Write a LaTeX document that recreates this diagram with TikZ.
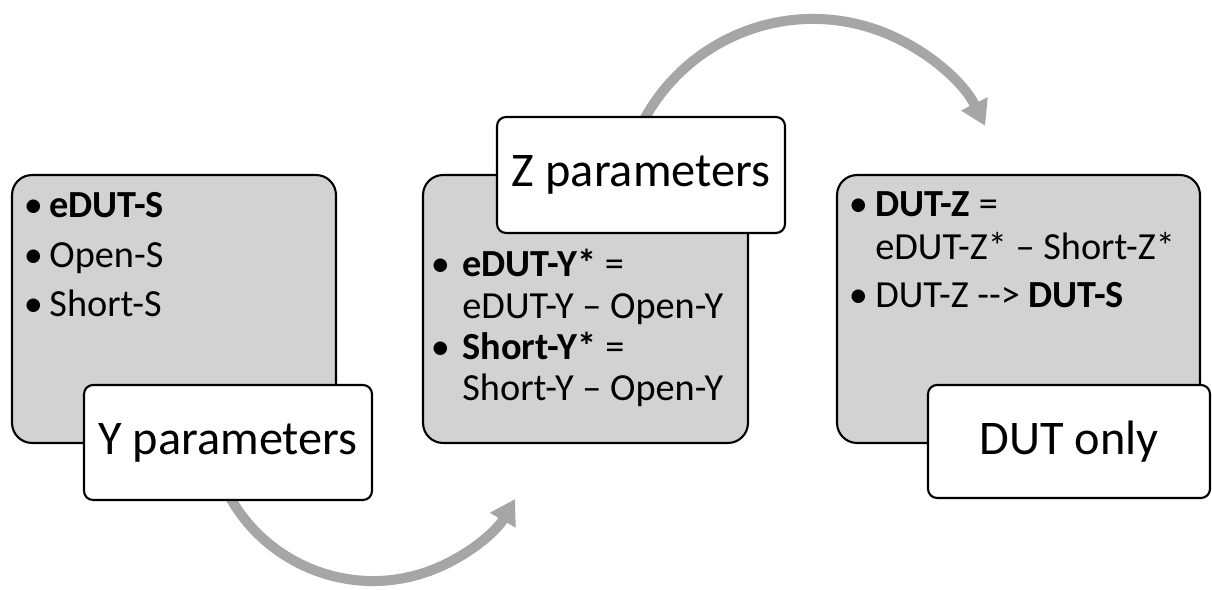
\documentclass[tikz,border=0pt]{standalone}
\usepackage{fontspec}
\setmainfont{Carlito}
\usetikzlibrary{arrows.meta}
\definecolor{boxgray}{RGB}{210,210,210}
\definecolor{arrowgray}{RGB}{166,166,166}
\newcommand\itembul[1]{\makebox[#1][l]{\hspace*{-2.5pt}•}}
\tikzset{
  graybox/.style={draw=black, line width=1.2pt, fill=boxgray, rounded corners=0.4cm, inner sep=0pt, minimum height=5.36cm},
  labelbox/.style={draw=black, line width=1.2pt, fill=white, rounded corners=0.18cm, inner sep=0pt, font=\fontsize{27.5}{33}\selectfont},
  bodytext/.style={anchor=base west, inner sep=0pt, font=\fontsize{21.8}{23.4}\selectfont},
  flow/.style={draw=arrowgray, line width=5.7pt, -{Triangle[width=16pt,length=14pt]}}
}
\begin{document}
\begin{tikzpicture}[x=0.02cm, y=0.02cm]
\useasboundingbox (0,0) rectangle (1212,590);
% arrows
\coordinate (a1s) at (218.9,116.9);
\coordinate (a2s) at (632.6,444.7);
\draw[flow] (a1s) arc[start angle=200, end angle=330, radius=164];
\draw[flow] (a2s) arc[start angle=160, end angle=26.3, radius=192];
% gray boxes
\node[graybox, minimum width=6.48cm] (g1) at (174,281) {};
\node[graybox, minimum width=6.5cm] (g2) at (585.5,281) {};
\node[graybox, minimum width=7.26cm] (g3) at (1018.5,281) {};
% body texts
\node[bodytext] (t1) at (28,372) {\begin{tabular}[t]{@{}l@{}}
\itembul{12pt}\textbf{eDUT-S}\\[4.7pt]
\itembul{12pt}Open-S\\[4.7pt]
\itembul{12pt}Short-S
\end{tabular}};
\node[bodytext] (t2) at (435,313) {\begin{tabular}[t]{@{}l@{}}
\itembul{15.4pt}\textbf{eDUT-Y*} =\\
\hspace*{15.4pt}eDUT-Y – Open-Y\\
\itembul{15.4pt}\textbf{Short-Y*} =\\
\hspace*{15.4pt}Short-Y – Open-Y
\end{tabular}};
\node[bodytext] (t3) at (853,373) {\begin{tabular}[t]{@{}l@{}}
\itembul{12.5pt}\textbf{DUT-Z} =\\[1pt]
\hspace*{12.5pt}eDUT-Z* – Short-Z*\\[3.8pt]
\itembul{12.5pt}DUT-Z -{}-{}> \textbf{DUT-S}
\end{tabular}};
% label boxes
\node[labelbox, minimum width=5.76cm, minimum height=2.3cm] (l1) at (228,147.5) {Y parameters};
\node[labelbox, minimum width=5.76cm, minimum height=2.32cm] (l2) at (641,415) {Z parameters};
\node[labelbox, minimum width=5.64cm, minimum height=2.26cm] (l3) at (1069,148.5) {DUT only};
\end{tikzpicture}
\end{document}
